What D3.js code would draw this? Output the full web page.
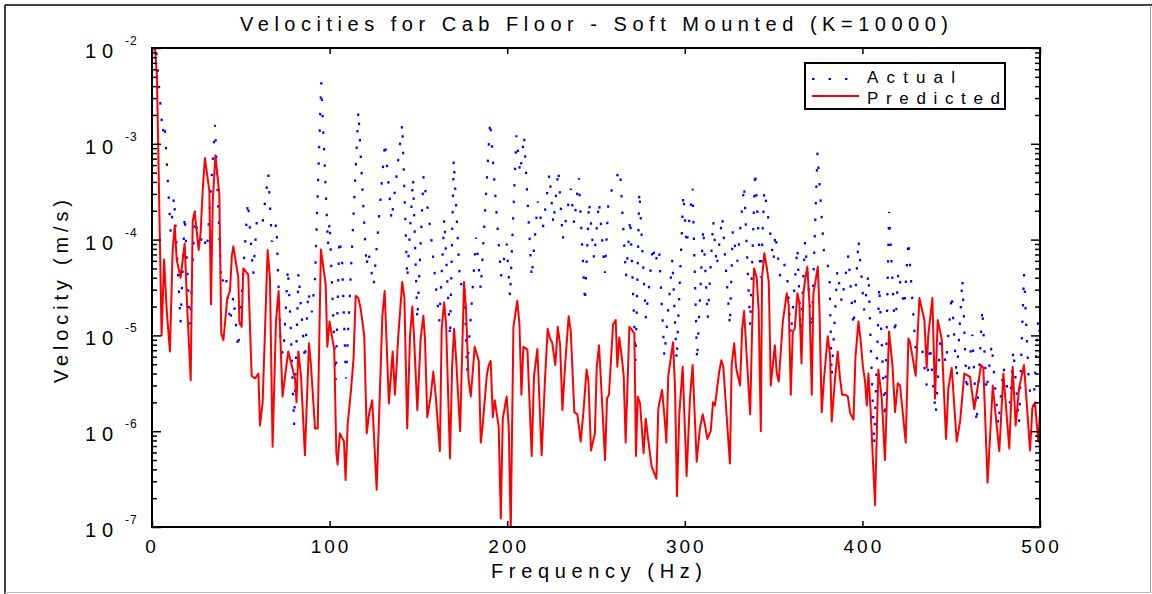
<!DOCTYPE html>
<html><head><meta charset="utf-8">
<script src="https://cdn.jsdelivr.net/npm/d3@7"></script>
<style>
body{margin:0;background:#fff}
svg{display:block}
text{font-family:"Liberation Sans",Arial,Helvetica,sans-serif;fill:#000}
</style>
</head><body>
<svg id="chart" width="1152" height="594"></svg>
<script>
// ---------------- data ----------------
const titleText = "Velocities for Cab Floor - Soft Mounted (K=10000)";
const xLabelText = "Frequency (Hz)";
const yLabelText = "Velocity (m/s)";
const seriesNames = ["Actual", "Predicted"];
const xTickValues = [0, 100, 200, 300, 400, 500];
const yDecadeExponents = [-2, -3, -4, -5, -6, -7];

// Predicted (solid red)
const predictedFreq = [
 1.5,2.8,5.4,6.8,8.3,10.1,11.6,12.8,13.9,16.1,
 18.4,19.9,21.8,22.9,24.0,26.3,27.4,28.5,29.8,32.3,
 33.2,34.2,35.7,37.9,39.0,40.2,42.4,43.9,45.0,45.8,
 48.6,49.2,50.5,51.4,54.2,56.1,58.0,59.9,60.8,62.3,
 65.1,66.4,67.9,69.8,71.3,73.5,76.7,80.5,81.4,82.4,
 83.9,86.1,88.4,89.5,91.8,93.3,95.1,97.8,98.7,100.0,
 101.5,102.6,103.8,104.5,105.8,108.1,109.0,110.2,112.0,113.5,
 114.7,116.2,117.5,119.5,120.9,122.2,124.0,126.5,128.2,129.7,
 131.0,133.4,135.5,136.8,138.7,140.9,142.1,143.7,145.3,146.6,
 147.5,149.4,151.3,152.8,153.7,155.0,156.9,158.4,159.7,162.1,
 163.1,164.5,165.6,167.8,169.0,170.1,171.2,173.5,174.6,175.7,
 176.8,178.2,179.5,181.7,184.0,185.1,186.2,188.5,189.6,190.7,
 191.9,193.0,195.2,196.4,197.5,199.7,200.9,202.0,203.5,205.7,
 206.9,208.0,209.1,211.4,213.8,215.1,217.0,219.4,221.3,222.8,
 224.1,225.3,227.1,228.5,229.8,231.1,232.6,234.6,235.8,237.8,
 239.5,241.4,242.9,244.7,245.7,247.2,249.4,250.4,251.7,253.2,
 255.1,256.2,257.3,259.6,261.1,262.0,263.1,264.4,265.6,266.7,
 268.8,270.1,271.6,272.5,273.5,274.8,276.8,278.0,279.5,281.3,
 284.0,285.1,287.2,288.8,289.6,290.7,293.4,294.5,295.6,296.9,
 298.8,301.0,302.9,304.4,306.7,308.5,310.1,311.4,312.7,314.6,
 315.9,317.0,319.4,320.6,321.7,323.6,325.4,326.4,327.8,328.9,
 331.1,332.3,333.4,334.5,336.8,337.9,339.0,340.5,341.6,342.8,
 343.5,344.8,346.1,347.3,348.4,350.7,351.8,352.9,355.2,357.4,
 358.5,359.7,360.8,361.9,363.4,364.5,365.7,366.8,367.9,369.0,
 370.2,371.5,372.4,373.5,374.9,375.8,377.1,378.4,380.5,381.8,
 382.7,384.6,386.1,387.4,388.6,390.4,391.8,393.1,395.0,396.1,
 397.8,399.1,400.2,401.5,402.5,403.4,404.7,405.8,407.1,409.0,
 410.9,412.7,415.0,416.9,418.4,419.9,421.2,424.4,425.9,426.8,
 430.0,432.1,434.9,436.2,437.1,439.4,440.9,442.4,444.6,447.1,
 448.4,450.3,453.1,455.0,457.4,460.6,463.0,466.8,468.1,470.5,
 473.4,475.6,477.1,479.4,482.7,484.6,486.3,488.2,491.0,494.4,
 495.7,497.2,499.0,500.0
];
const predictedVel = [
 1.12e-2,5.0e-3,1.0e-5,6.2e-5,1.8e-5,6.8e-6,7.4e-5,1.4e-4,6.2e-5,4.0e-5,
 9.1e-5,1.8e-5,3.4e-6,1.55e-4,1.95e-4,7.8e-5,1.2e-4,3.2e-4,7.1e-4,3.2e-4,
 2.1e-5,2.5e-4,7.6e-4,3.0e-4,1.05e-5,8.9e-6,2.45e-5,2.9e-5,6.9e-5,8.5e-5,
 4.0e-5,1.4e-5,1.23e-5,5.0e-5,4.3e-5,3.8e-6,3.55e-6,4.0e-6,1.15e-6,2.0e-6,
 7.8e-5,4.0e-5,6.9e-7,1.4e-5,2.9e-5,2.3e-6,6.8e-6,3.55e-6,2.0e-6,6.8e-6,
 3.8e-6,5.6e-7,8.3e-6,4.9e-6,1.07e-6,1.07e-6,7.9e-5,3.4e-5,7.6e-6,1.4e-5,
 9.3e-6,7.2e-6,5.9e-7,4.5e-7,9.5e-7,7.8e-7,3.1e-7,1.2e-6,2.6e-6,5.8e-6,
 2.6e-5,2.45e-5,1.9e-5,1.0e-5,9.5e-7,1.5e-6,2.1e-6,2.45e-7,2.2e-6,1.6e-5,
 2.9e-5,1.95e-6,6.8e-6,2.4e-6,1.0e-5,3.6e-5,2.5e-5,1.07e-6,1.0e-5,2.0e-5,
 1.0e-5,1.66e-6,9.3e-6,1.6e-5,9.3e-6,1.4e-6,2.3e-6,4.2e-6,2.4e-6,6.2e-7,
 1.17e-5,2.2e-5,1.3e-5,5.2e-7,4.9e-6,1.17e-5,5.8e-6,1.0e-6,6.2e-6,3.6e-5,
 1.9e-5,3.55e-6,2.3e-6,7.6e-6,5.4e-6,7.6e-7,1.15e-6,3.8e-6,4.9e-6,5.4e-6,
 1.4e-6,2.1e-6,1.12e-6,1.23e-7,1.35e-6,2.3e-6,1.07e-6,8.9e-8,1.23e-5,2.3e-5,
 1.3e-5,2.4e-6,7.6e-6,7.1e-6,5.5e-7,3.8e-6,7.2e-6,5.6e-7,3.55e-6,1.17e-5,
 9.3e-6,8.5e-6,4.9e-6,1.23e-5,7.9e-6,1.66e-6,4.9e-6,1.58e-5,1.1e-5,1.58e-6,
 1.5e-6,7.8e-7,1.58e-6,4.4e-6,3.4e-6,6.3e-7,9.5e-7,4.6e-6,7.9e-6,2.4e-6,
 5.0e-7,2.2e-6,2.4e-6,1.3e-5,1.45e-5,4.7e-6,9.5e-6,6.2e-6,3.8e-6,7.6e-7,
 1.23e-5,1.15e-5,1.05e-5,5.5e-7,2.3e-6,1.95e-6,5.9e-7,1.35e-6,7.9e-7,4.3e-7,
 3.2e-7,1.74e-6,2.7e-6,1.26e-6,7.6e-7,3.8e-6,8.5e-6,2.8e-6,2.1e-7,1.5e-6,
 4.7e-6,3.4e-7,2.2e-6,4.9e-6,4.8e-7,1.07e-6,1.5e-6,1.15e-6,8.3e-7,1.0e-6,
 2.0e-6,1.86e-6,4.2e-6,5.5e-6,4.7e-6,1.4e-6,4.6e-7,4.9e-6,8.3e-6,4.6e-6,
 3.0e-6,1.17e-5,1.8e-5,7.9e-6,1.5e-6,1.15e-5,5.0e-5,4.0e-5,1.8e-5,1.0e-6,
 4.0e-5,7.2e-5,5.2e-5,3.6e-5,3.0e-6,7.9e-6,4.0e-6,3.3e-6,1.4e-5,2.75e-5,
 2.1e-5,2.4e-6,1.1e-5,1.17e-5,2.75e-5,2.2e-5,5.1e-6,2.75e-5,4.0e-5,5.2e-5,
 2.1e-5,2.4e-6,2.75e-5,3.6e-5,5.2e-5,1.9e-5,1.58e-6,3.55e-6,9.8e-6,6.2e-6,
 1.26e-6,3.55e-6,6.8e-6,3.55e-6,2.4e-6,2.4e-6,2.3e-6,1.55e-6,1.32e-6,6.0e-6,
 1.4e-5,8.5e-6,4.9e-6,3.3e-6,1.86e-6,4.0e-6,1.58e-6,5.6e-7,1.7e-7,4.4e-6,
 2.2e-6,5.0e-7,1.1e-5,4.9e-6,1.58e-6,3.16e-6,3.0e-6,7.6e-7,9.3e-6,8.5e-6,
 3.8e-6,2.45e-5,1.45e-5,4.6e-6,1.0e-5,2.45e-5,2.2e-6,1.45e-5,9.3e-6,8.3e-7,
 2.8e-6,4.6e-6,7.8e-7,1.26e-6,4.0e-6,3.7e-6,1.7e-6,4.9e-6,4.6e-6,2.9e-7,
 3.0e-6,1.15e-6,6.2e-7,4.0e-6,6.6e-7,4.7e-6,1.15e-6,2.8e-6,4.9e-6,6.3e-7,
 1.74e-6,2.0e-6,7.8e-7,1.58e-6
];

// Actual (dotted blue)
const actualFreq = [
 2.5,6.0,7.1,10.5,12.4,16.1,18.4,21.4,24.2,26.5,
 28.5,31.0,35.5,39.0,41.5,44.0,45.8,48.5,54.0,57.0,
 59.0,62.0,65.5,67.5,70.0,72.5,74.0,76.5,78.0,80.0,
 82.5,86.1,88.0,90.0,91.8,95.3,99.1,100.0,103.4,105.5,
 107.0,109.2,116.2,120.8,121.8,124.8,131.2,134.9,140.9,143.7,
 147.0,149.4,152.9,157.0,161.8,164.6,167.8,169.9,173.5,175.8,
 177.4,182.5,185.1,190.4,196.5,199.7,201.6,205.2,207.3,209.5,
 213.8,217.2,220.0,223.8,226.0,228.8,231.3,235.8,237.7,240.3,
 243.8,246.1,248.9,251.7,255.0,257.0,259.6,263.5,266.9,269.3,
 272.3,274.4,278.1,282.1,283.2,285.5,288.5,293.0,295.4,299.2,
 301.0,304.4,306.9,310.4,312.9,316.0,318.0,321.1,325.4,327.0,
 329.6,333.4,336.8,339.6,342.8,344.8,347.6,349.9,351.0,353.7,
 356.0,357.8,359.7,363.4,365.3,367.7,371.5,374.7,378.4,381.4,
 382.7,385.9,388.4,392.1,395.0,397.8,401.0,403.4,406.6,409.5,
 412.7,415.0,418.4,420.2,423.6,425.9,430.0,433.4,436.2,438.1,
 439.4,441.3,444.0,447.0,450.3,453.1,456.3,458.7,461.9,464.3,
 467.5,469.9,472.8,476.5,479.4,483.1,485.0,488.2,491.0,493.8,
 496.3,499.0,500.0
];
const actualVel = [
 8.9e-3,1.29e-3,1.66e-3,1.2e-4,2.8e-4,1.35e-5,1.8e-4,1.3e-5,2.0e-4,7.8e-5,
 1.17e-4,7.8e-5,1.58e-3,3.4e-5,4.5e-5,1.35e-5,2.6e-5,7.2e-6,2.5e-4,4.3e-5,
 1.55e-4,1.35e-4,4.9e-4,9.5e-5,1.48e-4,7.2e-6,6.3e-6,5.0e-5,1.4e-5,1.15e-6,
 4.5e-5,5.5e-6,2.9e-5,1.74e-5,4.0e-5,4.4e-3,8.7e-5,1.55e-4,3.4e-6,1.02e-4,
 6.3e-5,3.55e-6,2.2e-3,5.2e-5,7.6e-5,3.3e-5,1.05e-3,1.58e-4,1.62e-3,3.9e-5,
 4.4e-4,1.45e-5,4.6e-4,1.15e-4,1.4e-5,1.66e-4,9.5e-6,6.9e-4,3.3e-5,3.8e-5,
 4.2e-6,1.05e-4,3.0e-5,1.74e-3,4.1e-5,9.1e-5,2.5e-5,1.23e-3,4.9e-4,1.23e-3,
 4.0e-5,2.5e-4,1.26e-4,4.9e-4,1.45e-4,5.4e-4,1.0e-4,3.4e-4,1.45e-4,4.4e-4,
 2.2e-5,2.5e-4,6.3e-5,2.5e-4,4.5e-5,2.5e-4,3.7e-4,5.4e-4,4.1e-5,1.66e-4,
 5.4e-6,3.2e-4,1.5e-5,8.7e-5,5.6e-5,8.1e-5,6.0e-6,6.3e-5,5.5e-6,3.0e-4,
 8.7e-5,3.4e-4,5.5e-6,1.32e-4,1.5e-5,1.58e-4,5.2e-5,1.74e-4,1.26e-5,1.23e-4,
 5.9e-5,3.7e-4,1.26e-5,5.2e-4,4.0e-5,3.3e-4,1.41e-4,5.9e-5,1.17e-4,4.1e-5,
 5.6e-5,3.8e-5,1.0e-5,8.3e-5,1.12e-5,9.5e-5,1.17e-5,8.1e-4,7.2e-5,4.7e-5,
 3.7e-6,4.8e-5,2.2e-5,6.9e-5,1.23e-5,1.0e-4,1.82e-5,4.4e-5,7.1e-7,3.3e-5,
 1.35e-6,1.95e-4,1.02e-5,4.7e-5,2.0e-5,9.8e-5,7.1e-6,7.9e-6,3.0e-6,7.9e-6,
 3.7e-6,1.5e-6,1.0e-5,5.0e-6,2.7e-5,3.55e-6,3.9e-5,2.6e-6,1.02e-5,1.2e-6,
 1.9e-5,2.6e-6,8.1e-6,1.15e-6,4.7e-6,1.95e-6,7.1e-6,1.2e-6,4.4e-5,2.9e-6,
 1.82e-6,1.48e-5,1.0e-5
];

// ---------------- drawing ----------------
const svg = d3.select("#chart");
const W = 1152, H = 594;
const plot = {left: 152, right: 1040, top: 48, bottom: 527};

const x = d3.scaleLinear().domain([0, 500]).range([plot.left, plot.right]);
const y = d3.scaleLog().domain([1e-7, 1e-2]).range([plot.bottom, plot.top]);

// outer figure frame
svg.append("rect").attr("x", 0).attr("y", 0).attr("width", W).attr("height", H).attr("fill", "#fff");
svg.append("line").attr("x1", 5).attr("x2", W).attr("y1", 5).attr("y2", 5).attr("stroke", "#000").attr("stroke-width", 1.5);
svg.append("line").attr("x1", 5).attr("x2", 5).attr("y1", 5).attr("y2", H).attr("stroke", "#000").attr("stroke-width", 1.5);
svg.append("line").attr("x1", 1150.5).attr("x2", 1150.5).attr("y1", 5).attr("y2", 592).attr("stroke", "#999").attr("stroke-width", 1);
svg.append("line").attr("x1", 5).attr("x2", 1151).attr("y1", 592.5).attr("y2", 592.5).attr("stroke", "#bbb").attr("stroke-width", 1);

// clip
svg.append("defs").append("clipPath").attr("id", "clip")
  .append("rect").attr("x", plot.left).attr("y", plot.top)
  .attr("width", plot.right - plot.left).attr("height", plot.bottom - plot.top);

// data lines
const actualData = actualFreq.map((f, i) => [f, actualVel[i]]);
const predictedData = predictedFreq.map((f, i) => [f, predictedVel[i]]);
const line = d3.line().x(d => x(d[0])).y(d => y(d[1]));

const g = svg.append("g").attr("clip-path", "url(#clip)");
g.append("path").datum(actualData).attr("d", line)
  .attr("fill", "none").attr("stroke", "#0000ff").attr("stroke-width", 2.2)
  .attr("stroke-dasharray", "2.5 14");
g.append("path").datum(predictedData).attr("d", line)
  .attr("fill", "none").attr("stroke", "#ff0000").attr("stroke-width", 2)
  .attr("stroke-linejoin", "round");

// axes ticks (inward)
const majorY = yDecadeExponents.map(e => Math.pow(10, e));
const minorY = [];
yDecadeExponents.forEach(e => { if (e > -7) for (let k = 2; k <= 9; k++) minorY.push(k * Math.pow(10, e - 1)); });

function styleAxis(sel) {
  sel.select(".domain").remove();
  sel.selectAll(".tick line").attr("stroke", "#000").attr("stroke-width", 1.5);
  sel.selectAll(".tick text").remove();
}
svg.append("g").attr("transform", `translate(0,${plot.bottom})`)
  .call(d3.axisBottom(x).tickValues(xTickValues).tickSizeInner(-6).tickSizeOuter(0)).call(styleAxis);
svg.append("g").attr("transform", `translate(0,${plot.top})`)
  .call(d3.axisTop(x).tickValues(xTickValues).tickSizeInner(-6).tickSizeOuter(0)).call(styleAxis);
svg.append("g").attr("transform", `translate(${plot.left},0)`)
  .call(d3.axisLeft(y).tickValues(majorY).tickSizeInner(-9).tickSizeOuter(0)).call(styleAxis);
svg.append("g").attr("transform", `translate(${plot.left},0)`)
  .call(d3.axisLeft(y).tickValues(minorY).tickSizeInner(-5).tickSizeOuter(0)).call(styleAxis);
svg.append("g").attr("transform", `translate(${plot.right},0)`)
  .call(d3.axisRight(y).tickValues(majorY).tickSizeInner(-9).tickSizeOuter(0)).call(styleAxis);
svg.append("g").attr("transform", `translate(${plot.right},0)`)
  .call(d3.axisRight(y).tickValues(minorY).tickSizeInner(-5).tickSizeOuter(0)).call(styleAxis);

// plot frame
svg.append("rect").attr("x", plot.left).attr("y", plot.top)
  .attr("width", plot.right - plot.left).attr("height", plot.bottom - plot.top)
  .attr("fill", "none").attr("stroke", "#000").attr("stroke-width", 2);

// x tick labels
svg.append("g").selectAll("text").data(xTickValues).join("text")
  .attr("x", d => x(d)).attr("y", plot.bottom + 26)
  .attr("text-anchor", "middle").attr("font-size", 19)
  .attr("letter-spacing", 3).attr("dx", d => String(d).length > 1 ? 1.5 : 0)
  .text(d => d);

// y tick labels: 10^e
const yl = svg.append("g").selectAll("g").data(yDecadeExponents).join("g");
yl.append("text").attr("x", 85).attr("y", d => y(Math.pow(10, d)) + 10)
  .attr("font-size", 20).attr("letter-spacing", 6).text("10");
yl.append("text").attr("x", 125).attr("y", d => y(Math.pow(10, d)) - 3)
  .attr("font-size", 12).attr("letter-spacing", 1).text(d => String(d));

// title & axis labels
svg.append("text").attr("x", 240).attr("y", 31).attr("font-size", 20)
  .attr("textLength", 708).attr("lengthAdjust", "spacing").text(titleText);
svg.append("text").attr("x", 491).attr("y", 578).attr("font-size", 20)
  .attr("textLength", 211).attr("lengthAdjust", "spacing").text(xLabelText);
svg.append("text").attr("transform", "translate(68,383) rotate(-90)").attr("font-size", 20)
  .attr("textLength", 183).attr("lengthAdjust", "spacing").text(yLabelText);

// legend
const lg = svg.append("g");
lg.append("rect").attr("x", 805).attr("y", 63).attr("width", 200).attr("height", 46)
  .attr("fill", "#fff").attr("stroke", "#000").attr("stroke-width", 2);
lg.append("line").attr("x1", 812).attr("x2", 856).attr("y1", 79).attr("y2", 79)
  .attr("stroke", "#0000ff").attr("stroke-width", 2.2).attr("stroke-dasharray", "2.5 14");
lg.append("line").attr("x1", 812).attr("x2", 859).attr("y1", 96).attr("y2", 96)
  .attr("stroke", "#ff0000").attr("stroke-width", 2);
lg.append("text").attr("x", 867).attr("y", 83).attr("font-size", 17)
  .attr("textLength", 88).attr("lengthAdjust", "spacing").text(seriesNames[0]);
lg.append("text").attr("x", 867).attr("y", 104).attr("font-size", 17)
  .attr("textLength", 133).attr("lengthAdjust", "spacing").text(seriesNames[1]);
</script>
</body></html>
